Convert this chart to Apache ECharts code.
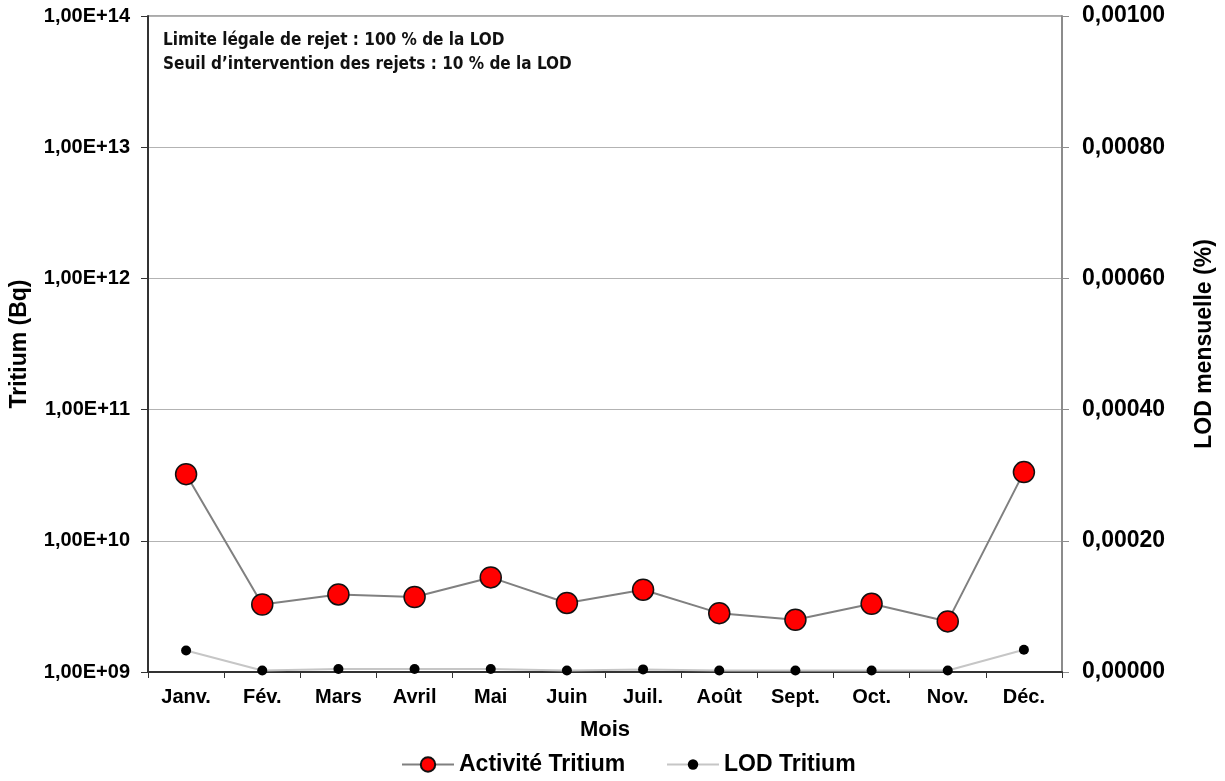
<!DOCTYPE html>
<html>
<head>
<meta charset="utf-8">
<script src="https://cdn.jsdelivr.net/npm/echarts@6/dist/echarts.min.js"></script>
<style>
  html, body { margin: 0; padding: 0; background: #fff; }
  #chart { width: 1225px; height: 781px; }
</style>
</head>
<body>
<div id="chart"></div>
<script>
// Monthly categories
const months = ['Janv.', 'Fév.', 'Mars', 'Avril', 'Mai', 'Juin', 'Juil.', 'Août', 'Sept.', 'Oct.', 'Nov.', 'Déc.'];
// Tritium activity released each month (Bq, log scale)
const activiteTritium = [3.22e10, 3.27e9, 3.9e9, 3.73e9, 5.26e9, 3.36e9, 4.24e9, 2.81e9, 2.5e9, 3.31e9, 2.43e9, 3.34e10];
// Monthly share of the legal limit (%)
const lodTritium = [0.0000329, 0.0000024, 0.0000046, 0.0000046, 0.0000046, 0.0000024, 0.000004, 0.0000024, 0.0000024, 0.0000024, 0.0000024, 0.000034];
// Note lines printed in the plot
const notes = ['Limite légale de rejet : 100 % de la LOD', 'Seuil d\u2019intervention des rejets : 10 % de la LOD'];

const FONT = '"Liberation Sans", Arial, sans-serif';
const legendText = { fontFamily: FONT, fontWeight: 'bold', fontSize: 23, color: '#000' };

const chart = echarts.init(document.getElementById('chart'));
chart.setOption({
  backgroundColor: '#ffffff',
  animation: false,
  grid: { left: 148, right: 163, top: 16, bottom: 109, containLabel: false,
          show: true, borderColor: '#555', borderWidth: 1 },
  // two legends so each marker keeps its own size
  legend: [
    {
      left: 396, bottom: 0,
      itemWidth: 52, itemHeight: 18,
      textStyle: legendText,
      data: ['Activité Tritium']
    },
    {
      left: 661, bottom: 0,
      itemWidth: 52, itemHeight: 13,
      textStyle: legendText,
      data: ['LOD Tritium']
    }
  ],
  xAxis: {
    type: 'category',
    data: months,
    boundaryGap: true,
    name: 'Mois',
    nameLocation: 'middle',
    nameGap: 47,
    nameTextStyle: { fontFamily: FONT, fontWeight: 'bold', fontSize: 22, color: '#000' },
    axisLine: { lineStyle: { color: '#333', width: 2 } },
    axisTick: { show: true, alignWithLabel: false, length: 6, lineStyle: { color: '#333', width: 1 } },
    axisLabel: { fontFamily: FONT, fontWeight: 'bold', fontSize: 20, color: '#000', margin: 15, interval: 0 }
  },
  yAxis: [
    {
      type: 'log',
      logBase: 10,
      min: 1e9,
      max: 1e14,
      name: 'Tritium (Bq)',
      nameLocation: 'middle',
      nameRotate: 90,
      nameGap: 117,
      nameTextStyle: { fontFamily: FONT, fontWeight: 'bold', fontSize: 23, color: '#000' },
      axisLine: { show: true, lineStyle: { color: '#333', width: 2 } },
      axisTick: { show: true, length: 7, lineStyle: { color: '#333' } },
      axisLabel: {
        fontFamily: FONT, fontWeight: 'bold', fontSize: 20, color: '#000', margin: 18,
        formatter: v => {
          const e = Math.round(Math.log10(v));
          return '1,00E+' + (e < 10 ? '0' + e : e);
        }
      },
      splitLine: { show: true, lineStyle: { color: '#b3b3b3', width: 1 } }
    },
    {
      type: 'value',
      min: 0,
      max: 0.001,
      interval: 0.0002,
      position: 'right',
      name: 'LOD mensuelle (%)',
      nameLocation: 'middle',
      nameRotate: 90,
      nameGap: 131,
      nameTextStyle: { fontFamily: FONT, fontWeight: 'bold', fontSize: 23, color: '#000' },
      axisLine: { show: true, lineStyle: { color: '#8c8c8c', width: 2 } },
      axisTick: { show: true, length: 7, lineStyle: { color: '#8c8c8c' } },
      axisLabel: {
        fontFamily: FONT, fontWeight: 'bold', fontSize: 23, color: '#000', margin: 20,
        formatter: v => v.toFixed(5).replace('.', ',')
      },
      splitLine: { show: false }
    }
  ],
  graphic: [
    {
      type: 'text', left: 163, top: 29,
      style: { text: notes.join('\n'), lineHeight: 24, fill: '#111',
               font: 'bold 17px "Liberation Sans Narrow", "DejaVu Sans Condensed", sans-serif' }
    }
  ],
  series: [
    {
      name: 'LOD Tritium',
      type: 'line',
      yAxisIndex: 1,
      data: lodTritium,
      symbol: 'circle',
      symbolSize: 10,
      lineStyle: { color: '#c6c6c6', width: 2 },
      itemStyle: { color: '#000', borderColor: '#000', borderWidth: 0 },
      z: 2
    },
    {
      name: 'Activité Tritium',
      type: 'line',
      yAxisIndex: 0,
      data: activiteTritium,
      symbol: 'circle',
      symbolSize: 21,
      lineStyle: { color: '#808080', width: 2 },
      itemStyle: { color: '#ff0000', borderColor: '#111', borderWidth: 1.5 },
      z: 3
    }
  ]
});
</script>
</body>
</html>
